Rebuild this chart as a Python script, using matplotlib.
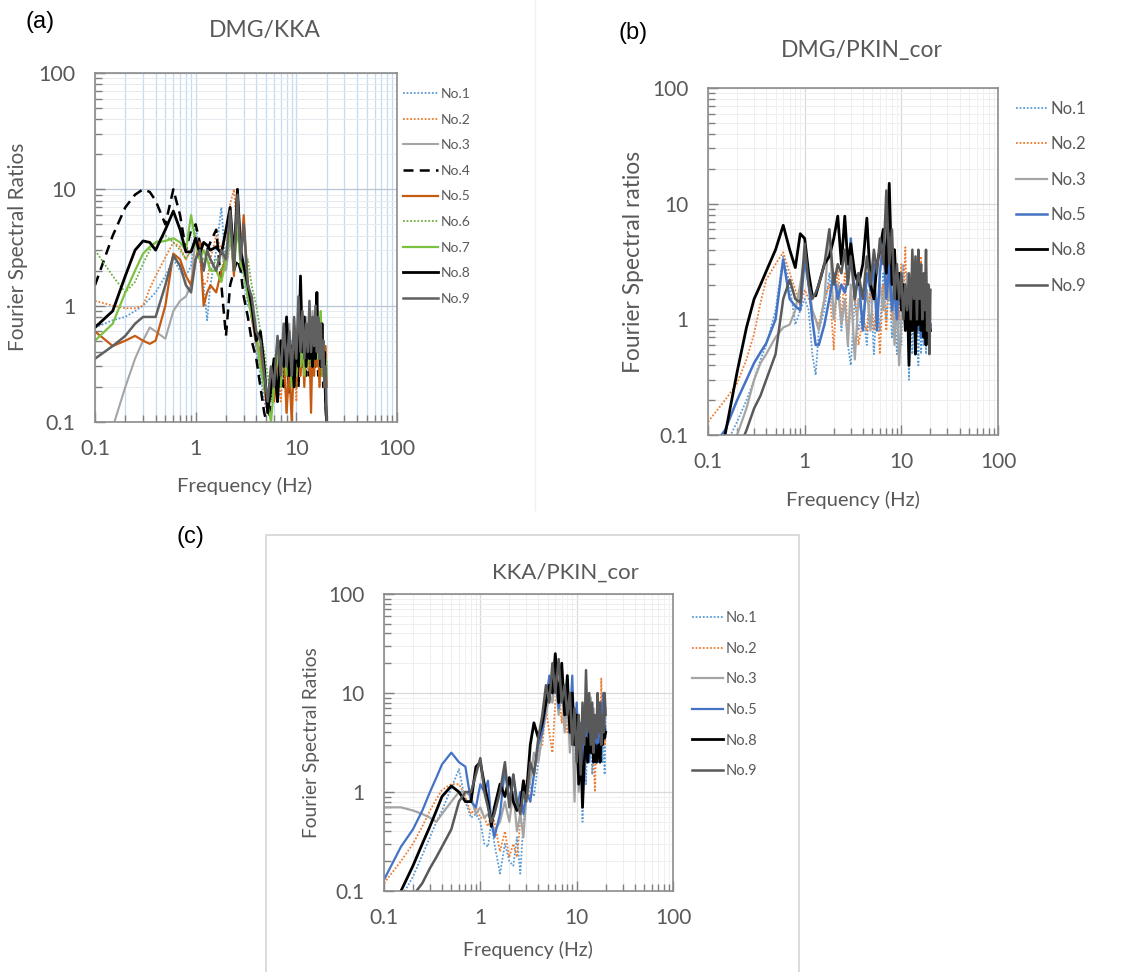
import matplotlib
matplotlib.use("Agg")
import matplotlib.pyplot as plt
from matplotlib.lines import Line2D
from matplotlib.patches import Rectangle
from matplotlib.ticker import LogLocator, FixedLocator, FixedFormatter, NullFormatter

plt.rcParams['font.family'] = ['Lato', 'DejaVu Sans']

W, H = 1145, 972

# frequency samples (Hz) shared by every curve
freq = [0.1, 0.15, 0.2, 0.25, 0.3, 0.35, 0.4, 0.5, 0.6, 0.7,
        0.8, 0.9, 1.0, 1.1, 1.2, 1.3, 1.4, 1.6, 1.8, 2.0,
        2.2, 2.4, 2.6, 2.8, 3.0, 3.3, 3.6, 4.0, 4.4, 4.8,
        5.2, 5.6, 6.0, 6.5, 7.0, 7.5, 8.0, 8.5, 9.0, 9.5,
        10, 10.5, 11, 11.5, 12, 12.5, 13, 13.5, 14, 14.5,
        15, 15.5, 16, 16.5, 17, 17.5, 18, 18.5, 19, 19.5, 20]

# ---- (a) DMG/KKA
a_no1 = [0.65, 0.75, 0.8, 0.9, 1.0, 1.15, 1.3, 1.8, 2.5, 2.0,
         1.8, 2.2, 5.0, 2.5, 1.5, 0.75, 1.5, 3.0, 7.0, 2.0,
         3.5, 2.5, 5.5, 2.0, 1.8, 1.0, 0.9, 0.4, 0.25, 0.15,
         0.12, 0.25, 0.3, 0.2, 0.45, 0.25, 0.6, 0.3, 0.5, 0.25,
         0.6, 0.35, 0.8, 0.3, 0.55, 0.25, 0.7, 0.3, 0.5, 0.3,
         0.8, 0.35, 1.0, 0.4, 0.6, 0.3, 0.7, 0.25, 0.4, 0.2, 0.35]
a_no2 = [1.1, 1.0, 0.95, 0.95, 1.0, 1.4, 1.8, 2.6, 3.5, 3.2,
         2.5, 3.0, 3.5, 2.5, 1.5, 1.6, 2.5, 4.0, 3.0, 4.0,
         7.5, 10, 4.0, 3.0, 2.0, 1.2, 0.8, 0.5, 0.3, 0.2,
         0.15, 0.3, 0.2, 0.4, 0.15, 0.35, 0.12, 0.5, 0.2, 0.45,
         0.15, 0.5, 0.25, 0.7, 0.3, 0.5, 0.25, 0.6, 0.3, 0.45,
         0.25, 0.55, 0.3, 0.5, 0.2, 0.6, 0.3, 0.45, 0.2, 0.4, 0.3]
a_no3 = [0.04, 0.09, 0.2, 0.35, 0.5, 0.65, 0.6, 0.52, 0.9, 1.1,
         1.2, 1.5, 4.0, 2.5, 2.0, 3.0, 2.5, 2.0, 3.0, 2.0,
         4.0, 3.0, 5.0, 2.5, 2.0, 1.3, 0.8, 0.45, 0.3, 0.2,
         0.15, 0.3, 0.2, 0.5, 0.25, 0.6, 0.3, 0.7, 0.3, 0.55,
         0.3, 0.7, 0.35, 0.6, 0.3, 0.8, 0.35, 0.6, 0.4, 0.9,
         0.4, 0.7, 0.35, 0.6, 0.4, 0.8, 0.35, 0.5, 0.25, 0.35, 0.2]
a_no4 = [1.5, 4.0, 7.0, 9.0, 10, 9.5, 8.0, 5.0, 10, 6.0,
         3.0, 4.5, 5.0, 3.5, 3.0, 3.0, 3.5, 4.5, 1.5, 0.55,
         1.5, 2.0, 2.5, 2.0, 1.2, 0.8, 0.5, 0.35, 0.2, 0.12,
         0.09, 0.15, 0.25, 0.15, 0.35, 0.2, 0.4, 0.18, 0.35, 0.2,
         0.45, 0.2, 0.6, 0.3, 0.5, 0.25, 0.55, 0.25, 0.45, 0.3,
         0.7, 0.3, 0.5, 0.25, 0.6, 0.3, 0.4, 0.2, 0.3, 0.15, 0.09]
a_no5 = [0.6, 0.45, 0.5, 0.55, 0.5, 0.47, 0.5, 1.0, 2.8, 2.5,
         1.8, 1.5, 2.5, 3.5, 1.0, 1.3, 1.5, 1.3, 2.0, 2.5,
         5.0, 1.8, 10, 2.5, 6.0, 1.5, 0.8, 0.5, 0.4, 0.2,
         0.12, 0.25, 0.15, 0.35, 0.2, 0.45, 0.12, 0.3, 0.1, 0.4,
         0.2, 0.55, 0.25, 0.5, 0.2, 0.6, 0.3, 0.45, 0.12, 0.5,
         0.25, 0.6, 0.3, 0.45, 0.2, 0.5, 0.25, 0.4, 0.2, 0.45, 0.2]
a_no6 = [3.0, 1.8, 1.3, 1.6, 2.3, 3.0, 3.5, 4.0, 3.5, 3.0,
         2.5, 3.0, 3.5, 2.8, 2.5, 2.5, 2.0, 2.5, 2.0, 3.0,
         5.0, 3.0, 6.0, 3.0, 2.0, 2.5, 1.5, 1.0, 0.6, 0.4,
         0.25, 0.15, 0.3, 0.5, 0.3, 0.7, 0.35, 0.6, 0.3, 0.5,
         0.35, 0.8, 0.4, 0.6, 0.3, 0.7, 0.35, 0.55, 0.3, 0.65,
         0.35, 0.9, 0.4, 0.6, 0.3, 0.5, 0.25, 0.45, 0.2, 0.3, 0.2]
a_no7 = [0.5, 0.7, 1.3, 2.0, 2.8, 3.2, 3.5, 3.6, 3.8, 3.5,
         3.0, 6.0, 3.5, 2.5, 3.0, 2.5, 2.0, 2.0, 1.6, 2.5,
         4.5, 2.0, 5.0, 2.2, 2.0, 1.2, 0.8, 0.6, 0.3, 0.2,
         0.15, 0.1, 0.2, 0.4, 0.2, 0.5, 0.25, 0.45, 0.2, 0.35,
         0.25, 0.7, 0.3, 0.55, 0.25, 0.6, 0.3, 0.5, 0.35, 0.8,
         0.4, 0.7, 0.35, 0.65, 0.5, 0.9, 0.3, 0.5, 0.25, 0.35, 0.25]
a_no8 = [0.65, 0.9, 1.8, 3.0, 3.6, 3.5, 3.0, 4.5, 6.5, 4.5,
         2.9, 2.9, 3.8, 2.8, 3.5, 3.3, 3.0, 3.2, 2.8, 4.5,
         7.0, 2.5, 10, 3.0, 2.2, 1.5, 1.0, 0.5, 0.6, 0.3,
         0.12, 0.2, 0.35, 0.15, 0.5, 0.3, 0.8, 0.25, 0.45, 0.2,
         0.5, 0.3, 1.8, 0.4, 0.8, 0.3, 0.6, 0.35, 0.5, 0.3,
         0.7, 0.35, 1.3, 0.4, 0.6, 0.3, 0.7, 0.3, 0.4, 0.15, 0.1]
a_no9 = [0.35, 0.45, 0.55, 0.7, 0.8, 0.8, 0.8, 1.5, 2.7, 2.2,
         1.5, 1.3, 2.5, 3.0, 2.0, 3.0, 2.5, 2.0, 3.0, 2.5,
         6.5, 2.0, 9.0, 2.5, 5.0, 1.5, 1.2, 0.6, 0.5, 0.25,
         0.15, 0.3, 0.2, 0.55, 0.25, 0.7, 0.3, 0.6, 0.25, 0.8,
         0.35, 1.2, 0.4, 0.9, 0.35, 0.7, 0.4, 1.1, 0.4, 0.8,
         0.45, 1.0, 0.4, 0.8, 0.35, 0.7, 0.3, 0.5, 0.2, 0.3, 0.1]

# ---- (b) DMG/PKIN_cor
b_no1 = [0.05, 0.08, 0.13, 0.2, 0.3, 0.45, 0.6, 1.2, 3.5, 2.0,
         0.9, 1.2, 1.5, 1.2, 0.5, 0.33, 0.8, 1.2, 2.5, 1.0,
         2.0, 0.8, 1.5, 0.6, 0.4, 1.5, 0.8, 1.2, 0.6, 2.0,
         0.5, 1.5, 0.8, 2.5, 1.0, 2.0, 0.7, 1.5, 0.5, 1.2,
         0.6, 3.0, 0.8, 1.5, 0.3, 1.2, 0.5, 1.5, 0.7, 1.0,
         0.4, 1.2, 0.5, 1.0, 0.6, 1.1, 0.5, 0.9, 0.6, 0.8, 0.7]
b_no2 = [0.13, 0.2, 0.28, 0.45, 0.75, 1.4, 2.2, 3.0, 3.8, 2.5,
         1.8, 1.3, 1.8, 1.5, 1.2, 1.0, 0.9, 1.5, 2.0, 0.55,
         3.0, 1.0, 2.5, 0.7, 1.2, 1.8, 0.6, 1.0, 0.8, 2.0,
         0.8, 1.5, 0.5, 2.0, 0.8, 3.0, 1.0, 4.0, 1.5, 1.0,
         3.0, 1.5, 4.2, 1.0, 2.0, 0.8, 2.5, 1.0, 3.0, 1.2,
         2.0, 0.8, 3.5, 1.2, 2.0, 1.0, 4.0, 1.0, 1.5, 0.8, 1.2]
b_no3 = [0.03, 0.05, 0.1, 0.17, 0.3, 0.42, 0.5, 0.7, 0.85, 0.9,
         1.2, 2.0, 3.5, 2.0, 1.2, 1.0, 0.8, 1.5, 6.0, 1.0,
         2.0, 0.9, 1.5, 0.6, 2.0, 0.45, 1.5, 1.0, 1.8, 0.8,
         2.5, 1.0, 2.0, 1.2, 3.0, 1.5, 2.5, 0.6, 1.5, 0.4,
         1.0, 2.0, 1.0, 2.5, 1.5, 2.0, 1.0, 3.0, 1.2, 2.5,
         1.0, 2.0, 0.8, 1.8, 1.0, 2.5, 1.2, 1.8, 0.9, 1.5, 1.0]
b_no5 = [0.07, 0.11, 0.2, 0.3, 0.42, 0.52, 0.62, 1.0, 3.3, 1.5,
         1.3, 1.2, 3.3, 2.0, 1.0, 0.6, 0.6, 0.9, 1.5, 2.5,
         1.5, 2.0, 1.7, 2.2, 5.0, 1.5, 2.5, 0.8, 2.5, 1.8,
         3.0, 0.8, 2.5, 5.0, 1.5, 3.0, 1.2, 2.0, 1.0, 2.5,
         1.5, 2.0, 0.9, 1.7, 0.7, 1.5, 0.9, 1.8, 0.6, 1.3,
         0.8, 1.4, 0.7, 1.2, 0.9, 1.5, 0.6, 1.1, 0.8, 1.0, 0.9]
b_no8 = [0.03, 0.1, 0.35, 0.85, 1.5, 2.0, 2.6, 4.0, 6.5, 4.0,
         2.8, 5.5, 5.0, 2.5, 1.6, 1.6, 2.0, 3.0, 3.5, 5.0,
         7.8, 3.0, 7.8, 3.0, 4.5, 2.5, 2.0, 3.0, 7.5, 2.0,
         1.5, 3.0, 4.0, 6.0, 2.5, 15, 2.0, 4.0, 1.5, 2.5,
         1.2, 2.0, 0.8, 1.8, 0.4, 1.5, 0.8, 2.0, 0.5, 1.5,
         0.9, 2.0, 0.8, 1.5, 0.7, 1.5, 0.6, 1.2, 0.7, 1.0, 0.8]
b_no9 = [0.02, 0.04, 0.07, 0.11, 0.17, 0.22, 0.3, 0.5, 1.5, 2.2,
         1.5, 1.4, 4.5, 2.0, 1.5, 1.7, 2.0, 3.0, 6.0, 2.0,
         3.0, 2.5, 4.0, 2.0, 3.5, 1.5, 2.5, 1.5, 3.5, 2.0,
         4.0, 2.5, 5.0, 3.0, 13, 3.0, 6.0, 1.5, 3.0, 1.5,
         2.5, 1.0, 2.0, 1.2, 2.5, 1.0, 4.0, 1.5, 3.5, 1.0,
         4.0, 1.5, 3.0, 1.0, 2.5, 1.2, 4.0, 0.8, 2.0, 0.5, 1.8]

# ---- (c) KKA/PKIN_cor
c_no1 = [0.05, 0.085, 0.14, 0.23, 0.35, 0.5, 0.65, 1.1, 1.7, 0.8,
         0.55, 0.6, 0.5, 0.3, 0.28, 0.5, 0.3, 0.15, 0.3, 0.2,
         0.18, 0.35, 0.15, 0.5, 0.8, 1.2, 0.9, 2.0, 4.0, 6.0,
         10, 8.0, 12, 10, 20, 7.0, 14, 5.0, 10, 1.0,
         6.0, 1.5, 4.0, 0.5, 3.0, 1.2, 5.0, 2.0, 6.0, 1.5,
         4.0, 2.0, 5.0, 2.5, 6.0, 3.0, 4.0, 2.0, 5.0, 1.5, 6.0]
c_no2 = [0.12, 0.2, 0.3, 0.45, 0.65, 0.85, 1.05, 1.2, 1.2, 0.9,
         0.6, 0.7, 0.55, 0.55, 0.45, 0.6, 0.5, 0.25, 0.4, 0.22,
         0.3, 0.22, 0.5, 1.2, 1.3, 0.8, 1.5, 2.5, 3.0, 7.0,
         4.0, 2.5, 8.0, 12, 5.0, 10, 4.0, 8.0, 3.0, 6.0,
         2.5, 5.0, 1.5, 4.0, 2.0, 5.0, 2.5, 6.0, 3.0, 5.0,
         2.0, 1.0, 4.0, 3.0, 6.0, 3.0, 14, 5.0, 8.0, 3.0, 5.0]
c_no3 = [0.7, 0.7, 0.65, 0.6, 0.55, 0.5, 0.6, 0.8, 1.0, 1.0,
         0.9, 0.6, 0.7, 0.55, 0.6, 0.5, 0.4, 0.5, 0.8, 0.5,
         1.0, 0.4, 0.6, 0.35, 0.9, 1.3, 2.5, 2.0, 4.0, 6.0,
         10, 8.0, 15, 6.0, 12, 4.0, 9.0, 2.5, 6.0, 0.8,
         4.0, 1.0, 3.0, 1.5, 5.0, 2.0, 7.0, 3.0, 9.0, 4.0,
         7.0, 3.0, 5.0, 2.0, 6.0, 3.0, 7.0, 4.0, 9.0, 5.0, 7.0]
c_no5 = [0.13, 0.28, 0.42, 0.65, 1.0, 1.4, 1.9, 2.5, 2.0, 1.8,
         0.8, 0.7, 1.2, 1.0, 1.3, 0.5, 0.35, 0.6, 1.7, 0.8,
         1.5, 0.7, 1.0, 0.6, 1.0, 0.8, 1.5, 3.0, 4.0, 8.0,
         15, 10, 18, 7.0, 15, 8.0, 12, 5.0, 15, 3.0,
         8.0, 2.5, 5.0, 2.0, 6.0, 3.0, 8.0, 2.0, 5.0, 2.5,
         6.0, 3.0, 4.0, 2.0, 5.0, 3.0, 8.0, 4.0, 10, 5.0, 4.0]
c_no8 = [0.05, 0.1, 0.18, 0.3, 0.45, 0.65, 0.9, 1.15, 1.0, 0.8,
         0.8, 1.8, 2.0, 1.2, 0.8, 0.45, 0.7, 1.2, 0.9, 1.4,
         0.8, 0.65, 0.7, 1.3, 0.9, 3.0, 5.0, 3.5, 5.0, 8.0,
         12, 10, 25, 8.0, 20, 6.0, 15, 4.0, 10, 3.0,
         6.0, 1.2, 3.0, 0.7, 2.0, 3.5, 2.0, 4.0, 2.5, 3.5,
         2.0, 3.0, 2.0, 2.5, 3.0, 2.0, 3.5, 3.0, 5.0, 3.5, 4.0]
c_no9 = [0.03, 0.05, 0.09, 0.12, 0.17, 0.22, 0.28, 0.42, 0.8, 1.0,
         1.0, 1.5, 2.2, 1.0, 0.7, 0.5, 0.6, 1.0, 2.0, 0.7,
         1.5, 0.8, 0.6, 1.0, 0.8, 2.0, 1.5, 3.5, 6.0, 12,
         8.0, 20, 10, 22, 8.0, 12, 6.0, 10, 3.0, 7.0,
         2.0, 6.0, 1.5, 8.0, 3.0, 17, 4.0, 10, 3.0, 8.0,
         2.5, 6.0, 3.5, 10, 4.0, 8.0, 3.0, 6.0, 4.0, 10, 6.0]

TXT = '#595959'
DOT = (0, (1, 1))
DASH = (0, (4, 2.5))

# (values, label, color, linestyle, linewidth)
series_a = [(a_no1, 'No.1', '#5B9BD5', DOT, 1.3),
            (a_no2, 'No.2', '#ED7D31', DOT, 1.3),
            (a_no3, 'No.3', '#A5A5A5', '-', 1.5),
            (a_no4, 'No.4', '#000000', DASH, 1.8),
            (a_no5, 'No.5', '#C55A11', '-', 1.6),
            (a_no6, 'No.6', '#70AD47', DOT, 1.3),
            (a_no7, 'No.7', '#7CC242', '-', 1.6),
            (a_no8, 'No.8', '#000000', '-', 2.0),
            (a_no9, 'No.9', '#606060', '-', 1.8)]
series_b = [(b_no1, 'No.1', '#5B9BD5', DOT, 1.3),
            (b_no2, 'No.2', '#ED7D31', DOT, 1.3),
            (b_no3, 'No.3', '#A5A5A5', '-', 1.6),
            (b_no5, 'No.5', '#4472C4', '-', 1.8),
            (b_no8, 'No.8', '#000000', '-', 2.0),
            (b_no9, 'No.9', '#595959', '-', 1.8)]
series_c = [(c_no1, 'No.1', '#5B9BD5', DOT, 1.3),
            (c_no2, 'No.2', '#ED7D31', DOT, 1.3),
            (c_no3, 'No.3', '#A5A5A5', '-', 1.6),
            (c_no5, 'No.5', '#4472C4', '-', 1.6),
            (c_no8, 'No.8', '#000000', '-', 2.0),
            (c_no9, 'No.9', '#595959', '-', 1.8)]


def fx(x):
    return x / W


def fy(y):
    return 1 - y / H


def make_axes(fig, left, top, right, bottom):
    return fig.add_axes([fx(left), fy(bottom), (right - left) / W, (bottom - top) / H])


def draw_panel(ax, series, tick_fs, style):
    for vals, label, color, ls, lw in series:
        ax.plot(freq, vals, color=color, linestyle=ls, linewidth=lw, label=label)
    ax.set_xscale('log')
    ax.set_yscale('log')
    ax.set_xlim(0.1, 100)
    ax.set_ylim(0.1, 100)
    ticks = [0.1, 1, 10, 100]
    names = ['0.1', '1', '10', '100']
    for axis in (ax.xaxis, ax.yaxis):
        axis.set_major_locator(FixedLocator(ticks))
        axis.set_major_formatter(FixedFormatter(names))
        axis.set_minor_locator(LogLocator(base=10, subs=range(2, 10)))
        axis.set_minor_formatter(NullFormatter())
    ax.tick_params(which='both', direction='in', colors='#7F7F7F', labelcolor=TXT,
                   top=False, right=False, labelsize=tick_fs)
    ax.tick_params(which='major', length=7, width=1)
    ax.tick_params(which='minor', length=5, width=1)
    ax.tick_params(axis='y', which='major', pad=14)
    ax.tick_params(axis='x', which='major', pad=12)
    for sp in ax.spines.values():
        sp.set_color('#8C8C8C')
        sp.set_linewidth(1.2)
    if style == 'blue':
        ax.grid(True, axis='x', which='both', color='#C6DBEF', linewidth=0.9)
        ax.grid(True, axis='y', which='major', color='#B9C4D4', linewidth=0.9)
        ax.grid(True, axis='y', which='minor', color='#E6EBF2', linewidth=0.7)
    else:
        ax.grid(True, which='major', color='#D9D9D9', linewidth=0.9)
        ax.grid(True, which='minor', color='#EFEFEF', linewidth=0.7)
    ax.set_axisbelow(True)


fig = plt.figure(figsize=(W / 100, H / 100), dpi=100)

# faint panel frames of the original figure
fig.add_artist(Line2D([fx(535), fx(535)], [fy(0), fy(510)], color='#F0F0F0', lw=1))
fig.add_artist(Rectangle((fx(266), fy(975)), (799 - 266) / W, (975 - 535) / H,
                         fill=False, edgecolor='#D4D4D4', lw=1.2))

# (a)
ax_a = make_axes(fig, 95, 73, 397, 422)
draw_panel(ax_a, series_a, 15.5, 'blue')
fig.text(fx(40), fy(22), '(a)', fontsize=17, family='Liberation Sans', ha='center', va='center')
fig.text(fx(265), fy(30), 'DMG/KKA', fontsize=16.5, color=TXT, ha='center', va='center')
fig.text(fx(18), fy(247), 'Fourier Spectral Ratios', fontsize=15, color=TXT,
         rotation=90, ha='center', va='center')
fig.text(fx(245), fy(486), 'Frequency (Hz)', fontsize=14.6, color=TXT, ha='center', va='center')
ax_a.legend(loc='upper left', bbox_to_anchor=(fx(403), fy(88)), bbox_transform=fig.transFigure,
            frameon=False, fontsize=10, labelcolor=TXT, handlelength=2.5, handletextpad=0.25,
            labelspacing=0.98, borderpad=0, borderaxespad=0)

# (b)
ax_b = make_axes(fig, 708, 88, 998, 435)
draw_panel(ax_b, series_b, 15, 'gray')
fig.text(fx(633), fy(33), '(b)', fontsize=17, family='Liberation Sans', ha='center', va='center')
fig.text(fx(862), fy(50), 'DMG/PKIN_cor', fontsize=16.5, color=TXT, ha='center', va='center')
fig.text(fx(633), fy(262), 'Fourier Spectral ratios', fontsize=16.4, color=TXT,
         rotation=90, ha='center', va='center')
fig.text(fx(853), fy(500), 'Frequency (Hz)', fontsize=14.5, color=TXT, ha='center', va='center')
ax_b.legend(loc='upper left', bbox_to_anchor=(fx(1016), fy(101)), bbox_transform=fig.transFigure,
            frameon=False, fontsize=12, labelcolor=TXT, handlelength=1.85, handletextpad=0.2,
            labelspacing=1.16, borderpad=0, borderaxespad=0)

# (c)
ax_c = make_axes(fig, 384, 594, 673, 891)
draw_panel(ax_c, series_c, 15, 'gray')
fig.text(fx(190), fy(537), '(c)', fontsize=17, family='Liberation Sans', ha='center', va='center')
fig.text(fx(565), fy(573), 'KKA/PKIN_cor', fontsize=16, color=TXT, ha='center', va='center')
fig.text(fx(311), fy(743), 'Fourier Spectral Ratios', fontsize=13.8, color=TXT,
         rotation=90, ha='center', va='center')
fig.text(fx(528), fy(950), 'Frequency (Hz)', fontsize=14, color=TXT, ha='center', va='center')
ax_c.legend(loc='upper left', bbox_to_anchor=(fx(692), fy(611)), bbox_transform=fig.transFigure,
            frameon=False, fontsize=10.5, labelcolor=TXT, handlelength=2.1, handletextpad=0.2,
            labelspacing=1.14, borderpad=0, borderaxespad=0)

fig.savefig('out.png', dpi=100)
